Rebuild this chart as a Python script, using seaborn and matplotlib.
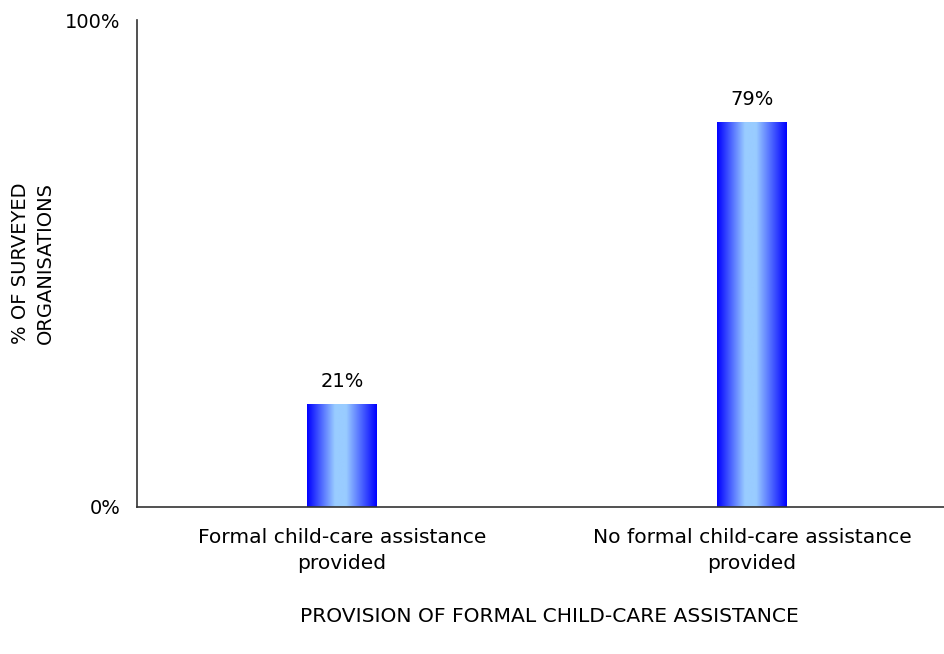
import numpy as np
import pandas as pd
import matplotlib
import matplotlib.pyplot as plt
import seaborn as sns
from matplotlib.colors import LinearSegmentedColormap

categories = ['Formal child-care assistance\nprovided', 'No formal child-care assistance\nprovided']
values = [21, 79]
value_labels = ['21%', '79%']

sns.set_style('white')
plt.rcParams['font.family'] = ['DejaVu Sans']
plt.rcParams['text.color'] = 'black'
plt.rcParams['axes.labelcolor'] = 'black'
plt.rcParams['xtick.color'] = 'black'
plt.rcParams['ytick.color'] = 'black'
fs = 14

df = pd.DataFrame({'category': categories, 'value': values})

fig = plt.figure(figsize=(9.45, 6.54), dpi=100)
ax = fig.add_axes([137 / 945, 1 - 507 / 654, (957 - 137) / 945, (507 - 20) / 654])

sns.barplot(x='category', y='value', data=df, ax=ax, width=0.17, color='blue')

cmap = LinearSegmentedColormap.from_list(
    'bar', [(0.0, '#0000ff'), (0.40, '#99ccff'), (0.56, '#99ccff'), (1.0, '#0000ff')])
grad = np.linspace(0, 1, 256).reshape(1, -1)
for p, lab in zip(ax.patches, value_labels):
    x0, y0 = p.get_x(), p.get_y()
    w, h = p.get_width(), p.get_height()
    p.set_facecolor('none')
    p.set_edgecolor('none')
    ax.imshow(grad, cmap=cmap, extent=[x0, x0 + w, y0, y0 + h], aspect='auto', zorder=2)
    ax.annotate(lab, (x0 + w / 2, y0 + h), xytext=(0, 23), textcoords='offset pixels',
                ha='center', va='center', fontsize=fs)

ax.set_xlim(-0.5, 1.5)
ax.set_ylim(0, 100)
ax.set_yticks([0, 100])
ax.set_yticklabels(['0%', '100%'], fontsize=fs)
ax.set_xticks([-0.5, 0.5, 1.5], minor=False)
ax.set_xticklabels(['', '', ''])
ax.set_xticks([0, 1], minor=True)
ax.set_xticklabels(categories, minor=True, fontsize=14.6, linespacing=1.45)
ax.tick_params(axis='x', which='minor', length=0, pad=15)
ax.tick_params(axis='both', which='major', length=6, width=1, color='#333333', direction='out')
ax.tick_params(axis='y', pad=6)

for s in ['top', 'right']:
    ax.spines[s].set_visible(False)
for s in ['left', 'bottom']:
    ax.spines[s].set_color('#333333')
    ax.spines[s].set_linewidth(1.2)

ax.set_xlabel('PROVISION OF FORMAL CHILD-CARE ASSISTANCE', fontsize=14.6)
ax.xaxis.set_label_coords((549 - 137) / 820, -(617 - 507) / 487)
ax.set_ylabel('% OF SURVEYED\nORGANISATIONS', fontsize=fs, linespacing=1.4)
ax.yaxis.set_label_coords(-(137 - 33) / 820, 0.5)
ax.xaxis.label.set_va('center')
ax.yaxis.label.set_va('center')

fig.savefig('out.png', dpi=100)
